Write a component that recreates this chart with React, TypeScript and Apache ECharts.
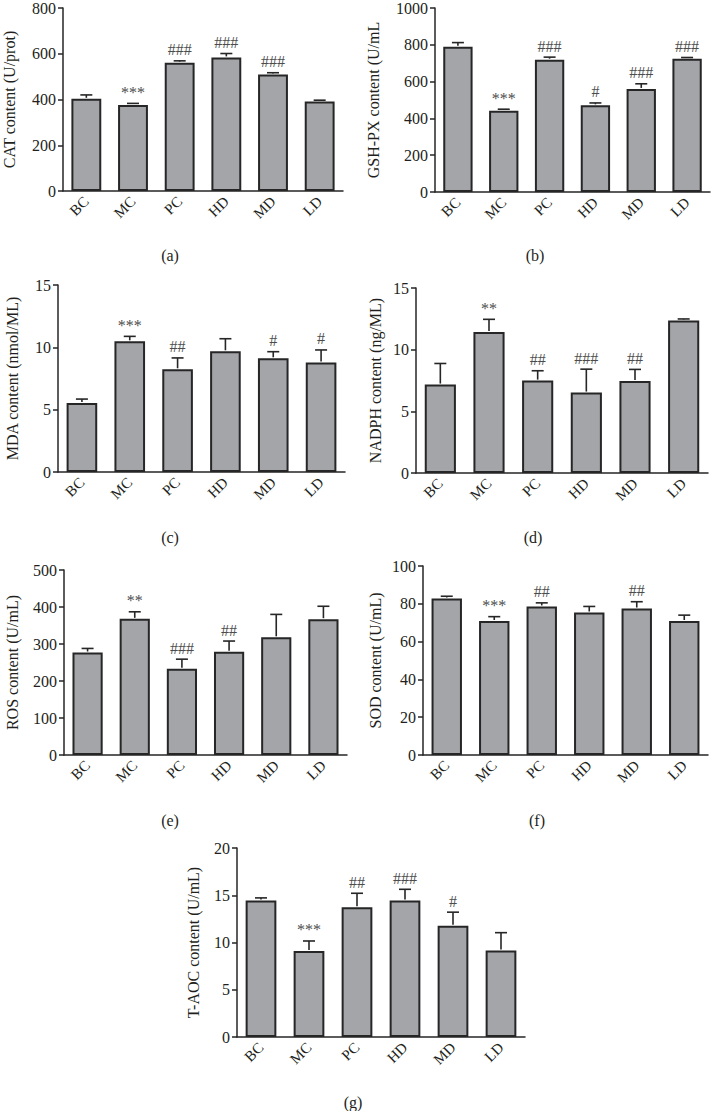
import React, { useEffect, useRef } from "react";
import * as echarts from "echarts";

const categories = ["BC", "MC", "PC", "HD", "MD", "LD"];

const catMean = [403, 376, 561, 584, 509, 391];
const catErr = [420, 383, 569, 601, 517, 397];
const catSig = ["", "***", "###", "###", "###", ""];

const gshMean = [790, 441, 719, 471, 560, 724];
const gshErr = [812, 450, 733, 484, 588, 731];
const gshSig = ["", "***", "###", "#", "###", "###"];

const mdaMean = [5.53, 10.48, 8.24, 9.68, 9.12, 8.78];
const mdaErr = [5.85, 10.88, 9.15, 10.69, 9.65, 9.79];
const mdaSig = ["", "***", "##", "", "#", "#"];

const nadphMean = [7.17, 11.44, 7.49, 6.52, 7.46, 12.36];
const nadphErr = [8.88, 12.46, 8.29, 8.42, 8.4, 12.49];
const nadphSig = ["", "**", "##", "###", "##", ""];

const rosMean = [277, 368, 233, 279, 318, 367];
const rosErr = [288, 387, 259, 308, 380, 402];
const rosSig = ["", "**", "###", "##", "", ""];

const sodMean = [82.8, 70.9, 78.6, 75.4, 77.5, 70.9];
const sodErr = [84.0, 73.2, 80.5, 78.6, 81.1, 74.0];
const sodSig = ["", "***", "##", "", "##", ""];

const taocMean = [14.44, 9.11, 13.74, 14.44, 11.77, 9.15];
const taocErr = [14.72, 10.16, 15.21, 15.63, 13.21, 11.04];
const taocSig = ["", "***", "##", "###", "#", ""];

const yNames = [
  "CAT content (U/prot)",
  "GSH-PX content (U/mL",
  "MDA content (nmol/ML)",
  "NADPH content (ng/ML)",
  "ROS content (U/mL)",
  "SOD content (U/mL)",
  "T-AOC content (U/mL)",
];
const yMax = [800, 1000, 15, 15, 500, 100, 20];
const yStep = [200, 200, 5, 5, 100, 20, 5];
const captions = ["(a)", "(b)", "(c)", "(d)", "(e)", "(f)", "(g)"];

const panelData = [
  { mean: catMean, err: catErr, sig: catSig },
  { mean: gshMean, err: gshErr, sig: gshSig },
  { mean: mdaMean, err: mdaErr, sig: mdaSig },
  { mean: nadphMean, err: nadphErr, sig: nadphSig },
  { mean: rosMean, err: rosErr, sig: rosSig },
  { mean: sodMean, err: sodErr, sig: sodSig },
  { mean: taocMean, err: taocErr, sig: taocSig },
];

// layout (pixels)
const grids = [
  { left: 62, top: 5, width: 281, height: 186, gap: 46 },
  { left: 435, top: 5, width: 275, height: 187, gap: 54 },
  { left: 58, top: 285, width: 287, height: 187, gap: 38 },
  { left: 416, top: 288, width: 292, height: 185, gap: 33 },
  { left: 64, top: 570, width: 283, height: 185, gap: 44 },
  { left: 423, top: 566, width: 285, height: 189, gap: 40 },
  { left: 237, top: 848, width: 288, height: 189, gap: 36 },
];
const captionPos = [
  [170, 255],
  [535, 255],
  [170, 537],
  [533, 537],
  [170, 820],
  [537, 820],
  [353, 1102],
];

const FONT = "Liberation Serif";
const INK = "#262626";
const BAR = "#a3a5a8";

export default function App() {
  const ref = useRef<HTMLDivElement>(null);
  useEffect(() => {
    if (!ref.current) return;
    const chart = echarts.init(ref.current, null, { renderer: "svg" });
    const grid: any[] = [];
    const xAxis: any[] = [];
    const yAxis: any[] = [];
    const series: any[] = [];
    panelData.forEach((p, i) => {
      const g = grids[i];
      grid.push({ left: g.left, top: g.top, width: g.width, height: g.height, containLabel: false });
      xAxis.push({
        type: "category",
        gridIndex: i,
        data: categories,
        boundaryGap: true,
        axisLine: { lineStyle: { color: INK, width: 1.5 } },
        axisTick: { alignWithLabel: true, length: 6, lineStyle: { color: INK, width: 1.5 } },
        axisLabel: {
          rotate: 45,
          interval: 0,
          color: "#231f20",
          fontFamily: FONT,
          fontSize: 15,
          margin: 8,
        },
      });
      yAxis.push({
        type: "value",
        gridIndex: i,
        min: 0,
        max: yMax[i],
        interval: yStep[i],
        name: yNames[i],
        nameLocation: "middle",
        nameGap: g.gap,
        nameTextStyle: { color: "#231f20", fontFamily: FONT, fontSize: 16 },
        splitLine: { show: false },
        axisLine: { show: true, lineStyle: { color: INK, width: 1.5 } },
        axisTick: { show: true, length: 5, lineStyle: { color: INK, width: 1.5 } },
        axisLabel: {
          color: "#231f20",
          fontFamily: FONT,
          fontSize: 16,
          margin: 7,
          formatter: (v: number) => String(v),
        },
      });
      series.push({
        type: "bar",
        xAxisIndex: i,
        yAxisIndex: i,
        data: p.mean,
        barWidth: "64%",
        itemStyle: { color: BAR, borderColor: INK, borderWidth: 2 },
        z: 2,
      });
      const sig = p.sig;
      series.push({
        type: "custom",
        xAxisIndex: i,
        yAxisIndex: i,
        clip: false,
        data: p.mean.map((m, k) => [k, m, p.err[k]]),
        encode: { x: 0, y: [1, 2] },
        z: 3,
        renderItem: (params: any, api: any) => {
          const k = api.value(0);
          const p0 = api.coord([k, api.value(1)]);
          const p1 = api.coord([k, api.value(2)]);
          const children: any[] = [
            {
              type: "line",
              shape: { x1: p0[0], y1: p0[1] - 1, x2: p1[0], y2: p1[1] },
              style: { stroke: INK, lineWidth: 1.6 },
            },
            {
              type: "line",
              shape: { x1: p1[0] - 6, y1: p1[1], x2: p1[0] + 6, y2: p1[1] },
              style: { stroke: INK, lineWidth: 1.6 },
            },
          ];
          const s = sig[params.dataIndex];
          if (s) {
            children.push({
              type: "text",
              x: p1[0],
              y: p1[1] - 3,
              style: {
                text: s,
                align: "center",
                verticalAlign: "bottom",
                fill: "#4d4d4d",
                fontSize: 16,
                fontFamily: FONT,
              },
            });
          }
          return { type: "group", children };
        },
      });
    });
    const graphic = captions.map((c, i) => ({
      type: "text",
      x: captionPos[i][0],
      y: captionPos[i][1],
      style: {
        text: c,
        align: "center",
        verticalAlign: "middle",
        fill: "#231f20",
        fontSize: 16,
        fontFamily: FONT,
      },
    }));
    chart.setOption({
      animation: false,
      backgroundColor: "#ffffff",
      grid,
      xAxis,
      yAxis,
      series,
      graphic,
    });
    return () => chart.dispose();
  }, []);
  return (
    <div
      ref={ref}
      style={{ position: "absolute", left: 0, top: 0, width: 711, height: 1111, background: "#fff" }}
    />
  );
}
